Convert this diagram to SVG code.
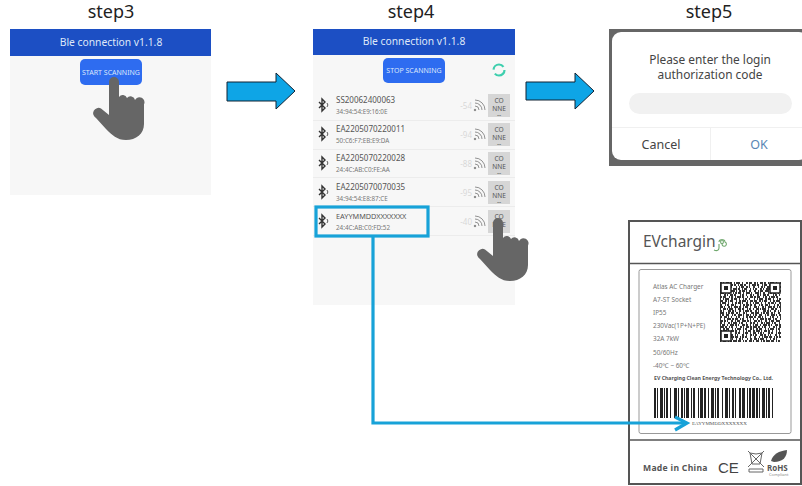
<svg xmlns="http://www.w3.org/2000/svg" width="802" height="486" viewBox="0 0 802 486">
<style>
text{font-family:"Noto Sans","Liberation Sans",sans-serif}
.title{font-size:18px;fill:#222;text-anchor:middle}
.panel{fill:#f7f7f7}
.head{fill:#1c4fc4}
.headt{font-size:10.300px;fill:#dfe8f8;text-anchor:middle}
.btn{fill:#2e6cf0}
.btnt{font-size:7px;fill:#dbe6fb;text-anchor:middle}
.sep{stroke:#ececec;stroke-width:1}
.name{font-size:8px;fill:#555}
.addr{font-size:6.300px;fill:#777}
.rssi{font-size:8px;fill:#d8d8d8;text-anchor:end}
.conbox{fill:#d6d6d6}
.cont{font-size:6.600px;fill:#555;text-anchor:middle}
.wifi{fill:none;stroke:#777;stroke-width:.8}
.bt{fill:none;stroke:#333;stroke-width:1.400}
.bigarrow{fill:#0ea5e6;stroke:#123;stroke-width:1}
.link{fill:none;stroke:#17a2d8;stroke-width:3.200}
.hand{fill:#666}
.dlg{font-size:11.900px;fill:#444;text-anchor:middle}
.lab{font-size:6.400px;fill:#777}
.qr{fill:none;stroke:#333;stroke-width:2}
</style>
<defs>
<path id="handp" class="hand" d="M109 82a5 5 0 0 1 10 0V97a4.500 4.500 0 0 1 8 1a4.500 4.500 0 0 1 8 2a4.500 4.500 0 0 1 9 4.500V124C144 134 136 140 126 140C117 140 112 135 106 129L96 118a4 4 0 0 1 5-9.500L109 115Z"/>
<g id="wifi" class="wifi"><circle cx="-4" cy="4" r=".8" fill="#777"/><path d="M-4 0a4 4 0 0 1 4 4M-4-3a7 7 0 0 1 7 7M-4-6a10 10 0 0 1 10 10"/></g>
<g id="bticon" class="bt"><path d="M-3-3 3 3 0 6V-6L3-3-3 3"/><path d="M5-2a3 3 0 0 1 0 4" stroke-width=".8"/></g>
<g id="conn"><rect class="conbox" width="22" height="23"/><text class="cont" x="11" y="9">CO</text><text class="cont" x="11" y="17">NNE</text><text class="cont" x="11" y="23">--</text></g>
</defs>

<g id="step3">
<text class="title" x="111" y="18">step3</text>
<rect class="panel" x="10" y="29" width="201" height="166"/>
<rect class="head" x="10" y="29" width="201" height="27"/>
<text class="headt" x="111" y="46">Ble connection v1.1.8</text>
<rect class="btn" x="80" y="59" width="62" height="26" rx="5"/>
<text class="btnt" x="111" y="75">START SCANNING</text>
<use href="#handp"/>
</g>

<g id="step4">
<text class="title" x="411" y="18">step4</text>
<rect class="panel" x="313" y="29" width="202" height="276"/>
<rect class="head" x="313" y="29" width="202" height="26"/>
<text class="headt" x="414" y="45">Ble connection v1.1.8</text>
<rect class="btn" x="383" y="58" width="62" height="25" rx="5"/>
<text class="btnt" x="414" y="73">STOP SCANNING</text>
<circle cx="499" cy="70" r="5.500" fill="none" stroke="#3ecfae" stroke-width="2.200" stroke-dasharray="13 4.300"/>
<path class="sep" d="M313 120.500H515M313 149.500H515M313 177.500H515M313 206.500H515M313 235.500H515"/>
<g id="row1"><use href="#bticon" x="322" y="105"/><text class="name" x="336" y="103">SS20062400063</text><text class="addr" x="336" y="114">34:94:54:E9:16:0E</text><text class="rssi" x="472" y="109">-54</text><use href="#wifi" x="479" y="106"/><use href="#conn" x="488" y="94"/></g>
<g id="row2"><use href="#bticon" x="322" y="134"/><text class="name" x="336" y="132">EA2205070220011</text><text class="addr" x="336" y="143">50:C6:F7:EB:E9:DA</text><text class="rssi" x="472" y="138">-94</text><use href="#wifi" x="479" y="135"/><use href="#conn" x="488" y="123"/></g>
<g id="row3"><use href="#bticon" x="322" y="163"/><text class="name" x="336" y="161">EA2205070220028</text><text class="addr" x="336" y="172">24:4C:AB:C0:FE:AA</text><text class="rssi" x="472" y="167">-88</text><use href="#wifi" x="479" y="164"/><use href="#conn" x="488" y="152"/></g>
<g id="row4"><use href="#bticon" x="322" y="192"/><text class="name" x="336" y="190">EA2205070070035</text><text class="addr" x="336" y="201">34:94:54:E8:87:CE</text><text class="rssi" x="472" y="196">-95</text><use href="#wifi" x="479" y="193"/><use href="#conn" x="488" y="181"/></g>
<g id="row5"><use href="#bticon" x="322" y="221"/><text class="name" x="336" y="219" style="font-size:7.300px">EAYYMMDDXXXXXXX</text><text class="addr" x="336" y="230">24:4C:AB:C0:FD:52</text><text class="rssi" x="472" y="225">-40</text><use href="#wifi" x="479" y="222"/><use href="#conn" x="488" y="210"/></g>
<use href="#handp" x="384" y="141"/>
</g>

<g id="step5">
<text class="title" x="709" y="18">step5</text>
<rect x="609" y="29" width="193" height="137" fill="#666"/>
<rect x="612" y="32" width="196" height="128" rx="9" fill="#fff"/>
<text class="dlg" x="710" y="64">Please enter the login</text>
<text class="dlg" x="710" y="79">authorization code</text>
<rect x="629" y="93" width="163" height="21" rx="10.500" fill="#f1f1f1"/>
<path d="M612 127.500H802M710.500 128V160" stroke="#f0f0f0" fill="none"/>
<text class="dlg" x="661" y="149" style="font-size:12.500px">Cancel</text>
<text class="dlg" x="759" y="149" style="font-size:12.500px;fill:#5a86b4">OK</text>
</g>

<g id="label">
<rect x="629" y="221" width="172" height="263" fill="#fff" stroke="#555" stroke-width="2"/>
<path d="M629 263.500H801M629 440H801" stroke="#555" stroke-width="1.500"/>
<rect x="639" y="269.500" width="152" height="164" rx="2" fill="#fff" stroke="#999"/>
<text x="643" y="247" font-size="15.500" fill="#555">EVchargin</text>
<path d="M719 244V248C719 251 716 251 714 250M719 242a2.200 2.200 0 1 1 3 2a2.200 2.200 0 1 0 3-2a2.200 2.200 0 1 0-3 2" fill="none" stroke="#6fa76c" stroke-width="1.100"/>
<text class="lab" x="653" y="289">Atlas AC Charger</text>
<text class="lab" x="653" y="302">A7-ST Socket</text>
<text class="lab" x="653" y="315">IP55</text>
<text class="lab" x="653" y="328">230Vac(1P+N+PE)</text>
<text class="lab" x="653" y="341">32A 7kW</text>
<text class="lab" x="653" y="355">50/60Hz</text>
<text class="lab" x="653" y="368">-40℃ ~ 60℃</text>
<text x="654" y="380" font-size="5.200" font-weight="700" fill="#555">EV Charging Clean Energy Technology Co., Ltd.</text>
<g id="qr" class="qr">
<path stroke-dasharray="2 1 1 2 3 1 2 2 1 1 4 2 1 3 2 1 3 2" d="M720 283H781"/>
<path stroke-dasharray="1 2 3 1 1 3 2 1 2 2 1 1 3 1 2 3 1 2 4" d="M720 285H781"/>
<path stroke-dasharray="3 1 2 2 1 1 2 4 1 2 1 1 3 2 2 1 1 3 2" d="M720 287H781"/>
<path stroke-dasharray="1 1 2 3 2 1 1 2 4 1 2 2 1 1 3 3 1 2" d="M720 289H781"/>
<path stroke-dasharray="2 2 1 1 3 2 4 1 1 2 2 1 3 1 1 2 2 3" d="M720 291H781"/>
<path stroke-dasharray="4 1 1 2 2 3 1 1 2 1 3 2 1 2 4 1 1 3" d="M720 293H781"/>
<path stroke-dasharray="1 3 2 1 1 2 3 1 2 4 1 1 2 2 1 3 2 1" d="M720 295H781"/>
<path stroke-dasharray="2 1 3 3 1 1 2 2 1 1 4 1 2 3 1 2 3 1" d="M720 297H781"/>
<path stroke-dasharray="1 2 1 1 4 2 2 1 3 2 1 3 1 1 2 2 1 4" d="M720 299H781"/>
<path stroke-dasharray="3 2 2 1 1 1 3 3 1 2 2 1 4 1 1 2 3 1" d="M720 301H781"/>
<path stroke-dasharray="1 1 4 2 1 3 1 2 2 1 3 1 1 3 2 2 1 2" d="M720 303H781"/>
<path stroke-dasharray="2 3 1 1 2 2 3 1 1 4 1 2 2 1 3 1 2 2" d="M720 305H781"/>
<path stroke-dasharray="3 1 1 3 2 1 1 2 4 1 2 2 1 1 3 2 1 3" d="M720 307H781"/>
<path stroke-dasharray="1 2 3 1 1 1 4 2 1 2 3 1 2 3 1 1 2 2" d="M720 309H781"/>
<path stroke-dasharray="2 1 1 4 3 1 2 1 1 3 2 2 1 1 4 1 2 3" d="M720 311H781"/>
<path stroke-dasharray="4 2 1 1 2 1 3 2 2 1 1 3 2 1 1 4 3 1" d="M720 313H781"/>
<path stroke-dasharray="1 1 2 2 3 3 1 1 2 2 4 1 1 2 3 1 1 2" d="M720 315H781"/>
<path stroke-dasharray="2 2 3 1 1 2 1 4 1 1 2 3 1 2 2 1 4 1" d="M720 317H781"/>
<path stroke-dasharray="1 3 1 2 4 1 2 1 3 2 1 1 2 3 1 2 1 2" d="M720 319H781"/>
<path stroke-dasharray="3 1 2 1 1 3 2 2 1 1 3 2 4 1 2 1 1 3" d="M720 321H781"/>
<path stroke-dasharray="2 2 1 3 2 1 1 1 4 2 1 1 2 3 1 3 2 1" d="M720 323H781"/>
<path stroke-dasharray="1 1 3 2 1 2 4 1 2 1 1 3 3 1 2 2 1 2" d="M720 325H781"/>
<path stroke-dasharray="4 1 2 2 1 1 2 3 1 3 2 1 1 2 3 1 2 1" d="M720 327H781"/>
<path stroke-dasharray="1 2 2 1 3 3 1 2 1 1 4 2 1 1 2 3 2 1" d="M720 329H781"/>
<path stroke-dasharray="2 1 4 1 1 2 3 1 2 2 1 3 1 2 1 1 3 2" d="M720 331H781"/>
<path stroke-dasharray="3 2 1 1 2 1 1 4 2 1 2 3 1 1 3 2 1 2" d="M720 333H781"/>
<path stroke-dasharray="1 1 2 3 3 1 2 2 1 1 1 4 2 2 1 3 2 1" d="M720 335H781"/>
<path stroke-dasharray="2 3 1 2 1 1 4 1 3 2 1 1 2 1 2 3 1 3" d="M720 337H781"/>
<path stroke-dasharray="3 1 1 1 4 2 1 3 1 2 2 1 1 4 1 2 2 2" d="M720 339H781"/>
<path stroke-dasharray="1 2 3 2 1 1 2 1 4 1 3 2 1 1 2 2 3 1" d="M720 341H781"/>
</g>
<g id="finders" fill="#fff" stroke="#222" stroke-width="1.500">
<rect x="721" y="283" width="10" height="10"/><rect x="770" y="283" width="10" height="10"/><rect x="721" y="331" width="10" height="10"/>
</g>
<path fill="#222" d="M724 286h4v4h-4zM773 286h4v4h-4zM724 334h4v4h-4z"/>
<path id="barcode" d="M654 403H774" stroke="#222" stroke-width="30" fill="none" stroke-dasharray="2 1 1 2 3 1 1 1 2 2 1 3 3 1 1 2 2 1 1 1 3 2 1 1 2 3 1 1 3 1 2 2 1 2 3 1 1 1 2 3 1 2 3 1 1 2 2 1 1 3 2 1 3 2 1 1 2 1 3 1"/>
<text x="692" y="425" font-size="5" fill="#555" style="font-family:'Liberation Serif',serif">EAYYMMDDXXXXXXX</text>
<text x="643" y="471" font-size="8.600" font-weight="700" fill="#555" letter-spacing=".3">Made in China</text>
<text x="718" y="473" font-size="15" fill="#444" style="font-family:'Liberation Sans',sans-serif">CE</text>
<path d="M750 453l6 1 6-1-2 11h-8zM748 451l16 16M764 451l-16 16M749 469h14v3h-14z" fill="none" stroke="#666" stroke-width="1"/>
<path d="M771 461c2-7 8-10 16-11c0 7-4 12-13 12z" fill="#555"/>
<text x="767" y="471" font-size="8" font-weight="700" fill="#555">RoHS</text>
<text x="769" y="476" font-size="4" fill="#888">Compliant</text>
</g>

<g id="connectors">
<path class="bigarrow" d="M227 82H276V73L295 91 276 109V101H227Z"/>
<path class="bigarrow" d="M526 82H575V73L594 91 575 109V100H526Z"/>
<rect class="link" x="316" y="207" width="112" height="29"/>
<path class="link" d="M373 237V423H686"/>
<path class="link" d="M675 417 687 423 675 430"/>
</g>
</svg>
